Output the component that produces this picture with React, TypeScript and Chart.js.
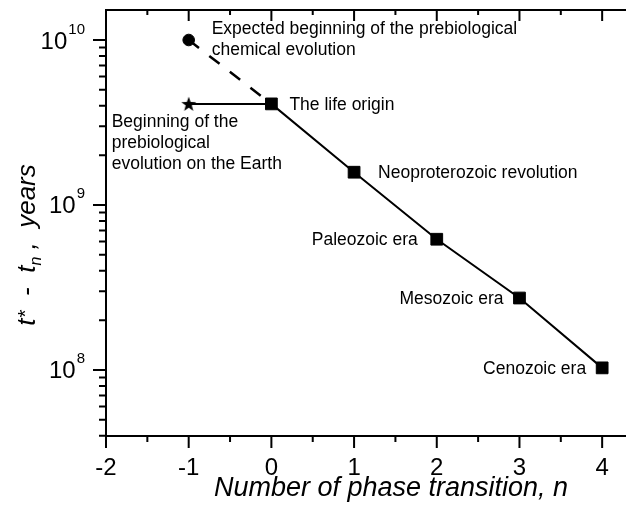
import React, { useEffect, useRef } from "react";
import { Chart, registerables } from "chart.js";

Chart.register(...registerables);

// ---- data ----
const phaseN = [0, 1, 2, 3, 4];
const yearsBefore = [4.1e9, 1.58e9, 6.2e8, 2.73e8, 1.03e8];
const prebioN = [-1, 0];
const prebioYears = [4.1e9, 4.1e9];
const expectedN = [-1, 0];
const expectedYears = [1.0e10, 4.1e9];
const xTickValues = [-2, -1, 0, 1, 2, 3, 4];
const yDecadeExponents = [8, 9, 10];

const expectedLabel = ["Expected beginning of the prebiological", "chemical evolution"];
const prebioLabel = ["Beginning of the", "prebiological", "evolution on the Earth"];
const eraLabels = ["The life origin", "Neoproterozoic revolution", "Paleozoic era", "Mesozoic era", "Cenozoic era"];

const xTitle = "Number of phase transition, n";

// ---- layout / style ----
const X_MIN = -2;
const X_MAX = 4.5;
const Y_MIN = 3.98e7;
const Y_MAX = 1.52e10;
const FONT = "'Liberation Sans', Arial, Helvetica, sans-serif";
const eraLabelStyle = [
  { dx: 18, align: "left" },
  { dx: 24, align: "left" },
  { dx: -19, align: "right" },
  { dx: -16, align: "right" },
  { dx: -16, align: "right" },
];

function makeStar(): HTMLCanvasElement {
  const c = document.createElement("canvas");
  c.width = 16;
  c.height = 16;
  const g = c.getContext("2d")!;
  g.beginPath();
  for (let i = 0; i < 10; i++) {
    const r = i % 2 === 0 ? 7.8 : 3.2;
    const a = -Math.PI / 2 + (i * Math.PI) / 5;
    g.lineTo(8 + r * Math.cos(a), 8.6 + r * Math.sin(a));
  }
  g.closePath();
  g.fillStyle = "#000";
  g.fill();
  return c;
}

const decorPlugin = {
  id: "decor",
  afterDraw(chart: any) {
    const { ctx, chartArea } = chart;
    const { left, right, top, bottom } = chartArea;
    const xs = chart.scales.x;
    const ys = chart.scales.y;
    ctx.save();
    ctx.strokeStyle = "#000";
    ctx.fillStyle = "#000";
    ctx.lineWidth = 2;
    ctx.beginPath();
    ctx.rect(left, top, right - left, bottom - top);
    ctx.stroke();

    // x ticks (bottom outward, top inward)
    ctx.beginPath();
    for (let v = X_MIN; v <= X_MAX + 1e-9; v += 0.5) {
      const px = xs.getPixelForValue(v);
      const major = Math.abs(v - Math.round(v)) < 1e-9;
      ctx.moveTo(px, bottom);
      ctx.lineTo(px, bottom + (major ? 12 : 6));
      ctx.moveTo(px, top);
      ctx.lineTo(px, top + (major ? 11 : 5));
    }
    // y ticks (left outward, right inward)
    for (let e = 7; e <= 10; e++) {
      for (let m = 1; m <= 9; m++) {
        const v = m * Math.pow(10, e);
        if (v < Y_MIN || v > Y_MAX) continue;
        const py = ys.getPixelForValue(v);
        const major = m === 1;
        ctx.moveTo(left, py);
        ctx.lineTo(left - (major ? 13 : 7), py);
        ctx.moveTo(right, py);
        ctx.lineTo(right - (major ? 13 : 7), py);
      }
    }
    ctx.stroke();

    // x tick labels
    ctx.font = `24px ${FONT}`;
    ctx.textAlign = "center";
    ctx.textBaseline = "alphabetic";
    for (const v of xTickValues) {
      ctx.fillText(String(v), xs.getPixelForValue(v), bottom + 39);
    }

    // y tick labels 10^n
    ctx.textAlign = "left";
    for (const e of yDecadeExponents) {
      const py = ys.getPixelForValue(Math.pow(10, e));
      const expStr = String(e);
      ctx.font = `15px ${FONT}`;
      const ew = ctx.measureText(expStr).width;
      ctx.font = `24px ${FONT}`;
      const bw = ctx.measureText("10").width;
      const R = left - 21;
      ctx.fillText("10", R - ew - 1 - bw, py + 8.5);
      ctx.font = `15px ${FONT}`;
      ctx.fillText(expStr, R - ew, py - 6.5);
    }

    // x title
    ctx.font = `italic 27px ${FONT}`;
    ctx.textAlign = "center";
    ctx.fillText(xTitle, 383, bottom + 60);

    // y title (rotated): t* - t_n , years
    const segs = [
      { t: "t", size: 26, dy: 0 },
      { t: "*", size: 21, dy: -3 },
      { t: "  -  ", size: 26, dy: 0 },
      { t: "t", size: 26, dy: 0 },
      { t: "n", size: 16, dy: 6 },
      { t: " ,  ", size: 26, dy: 0 },
      { t: "years", size: 26, dy: 0 },
    ];
    let total = 0;
    const widths: number[] = [];
    for (const s of segs) {
      ctx.font = `italic ${s.size}px ${FONT}`;
      const w = ctx.measureText(s.t).width;
      widths.push(w);
      total += w;
    }
    ctx.save();
    ctx.translate(27, 237);
    ctx.rotate(-Math.PI / 2);
    ctx.textAlign = "left";
    let cx = -total / 2;
    segs.forEach((s, i) => {
      ctx.font = `italic ${s.size}px ${FONT}`;
      ctx.fillText(s.t, cx, s.dy);
      cx += widths[i];
    });
    ctx.restore();

    // annotations
    ctx.font = `17.5px ${FONT}`;
    const cxp = xs.getPixelForValue(expectedN[0]);
    const cyp = ys.getPixelForValue(expectedYears[0]);
    ctx.textAlign = "left";
    expectedLabel.forEach((line, i) => ctx.fillText(line, cxp + 23, cyp - 6 + i * 20.5));

    const sxp = xs.getPixelForValue(prebioN[0]);
    const syp = ys.getPixelForValue(prebioYears[0]);
    prebioLabel.forEach((line, i) => ctx.fillText(line, sxp - 77, syp + 23 + i * 21));

    eraLabels.forEach((text, i) => {
      const px = xs.getPixelForValue(phaseN[i]);
      const py = ys.getPixelForValue(yearsBefore[i]);
      const st = eraLabelStyle[i];
      ctx.textAlign = st.align as CanvasTextAlign;
      ctx.fillText(text, px + st.dx, py + 6);
    });
    ctx.restore();
  },
};

export default function App() {
  const ref = useRef<HTMLCanvasElement | null>(null);
  useEffect(() => {
    if (!ref.current) return;
    const star = makeStar();
    const chart = new Chart(ref.current, {
      type: "line",
      data: {
        datasets: [
          {
            label: "phase transitions",
            data: phaseN.map((n, i) => ({ x: n, y: yearsBefore[i] })),
            borderColor: "#000",
            backgroundColor: "#000",
            borderWidth: 2,
            pointStyle: "rect",
            pointRadius: 8.3,
            pointBorderWidth: 1,
            pointBackgroundColor: "#000",
            pointBorderColor: "#000",
            tension: 0,
          },
          {
            label: "prebiological evolution",
            data: prebioN.map((n, i) => ({ x: n, y: prebioYears[i] })),
            borderColor: "#000",
            borderWidth: 2,
            pointStyle: [star, false] as any,
            pointRadius: [7, 0],
            tension: 0,
          },
          {
            label: "expected",
            data: expectedN.map((n, i) => ({ x: n, y: expectedYears[i] })),
            borderColor: "#000",
            backgroundColor: "#000",
            borderWidth: 2.5,
            borderDash: [13, 13],
            pointStyle: "circle",
            pointRadius: [5.8, 0],
            pointBorderWidth: 1,
            pointBackgroundColor: "#000",
            pointBorderColor: "#000",
            tension: 0,
          },
        ],
      },
      options: {
        animation: false,
        responsive: false,
        devicePixelRatio: 1,
        layout: { autoPadding: false, padding: { left: 0, top: 2, right: 4.5, bottom: 0 } },
        plugins: { legend: { display: false }, tooltip: { enabled: false } },
        scales: {
          x: {
            type: "linear",
            min: X_MIN,
            max: X_MAX,
            grid: { display: false },
            border: { display: false },
            ticks: { display: false },
            afterFit: (s: any) => {
              s.height = 74;
            },
          },
          y: {
            type: "logarithmic",
            min: Y_MIN,
            max: Y_MAX,
            grid: { display: false },
            border: { display: false },
            ticks: { display: false },
            afterFit: (s: any) => {
              s.width = 98;
            },
          },
        },
      },
      plugins: [decorPlugin],
    });
    return () => chart.destroy();
  }, []);
  return (
    <div style={{ width: 626, height: 494, overflowX: "clip", overflowY: "visible" } as any}>
      <canvas ref={ref} width={640} height={502} style={{ display: "block" }} />
    </div>
  );
}
